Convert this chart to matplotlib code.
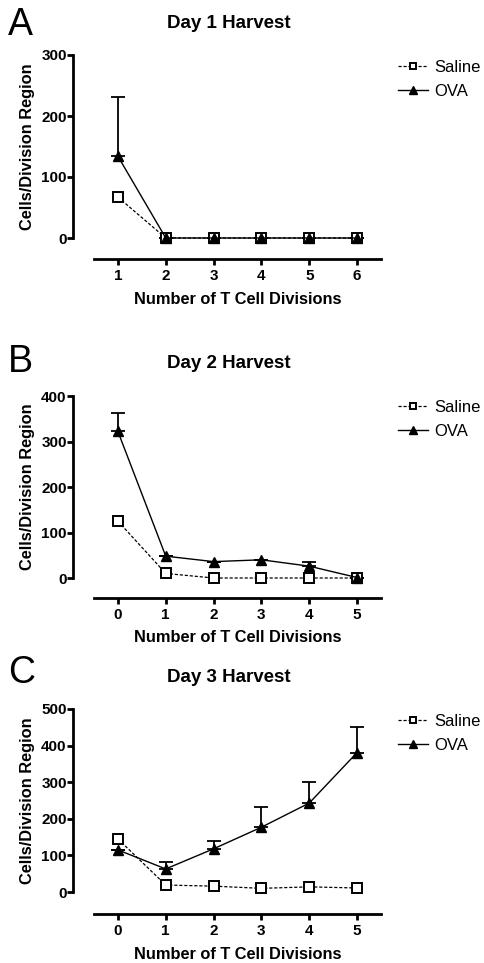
import matplotlib
matplotlib.use("Agg")
import matplotlib.pyplot as plt
import numpy as np

plt.rcParams['font.family'] = ['Liberation Sans', 'DejaVu Sans']

# Panel A
a_x = [1, 2, 3, 4, 5, 6]
a_saline = [67, 0, 0, 0, 0, 0]
a_ova = [134, 0, 0, 0, 0, 0]
a_ova_err = [97, 0, 0, 0, 0, 0]
a_yticks = [0, 100, 200, 300]

# Panel B
b_x = [0, 1, 2, 3, 4, 5]
b_saline = [125, 10, 0, 0, 0, 0]
b_ova = [322, 48, 36, 40, 26, 1]
b_ova_err = [41, 0, 0, 0, 9, 0]
b_yticks = [0, 100, 200, 300, 400]

# Panel C
c_x = [0, 1, 2, 3, 4, 5]
c_saline = [145, 19, 16, 10, 14, 11]
c_ova = [115, 63, 118, 177, 243, 381]
c_ova_err = [0, 18, 20, 54, 57, 69]
c_yticks = [0, 100, 200, 300, 400, 500]

panels = [
    ("A", "Day 1 Harvest", a_x, a_saline, a_ova, a_ova_err, a_yticks),
    ("B", "Day 2 Harvest", b_x, b_saline, b_ova, b_ova_err, b_yticks),
    ("C", "Day 3 Harvest", c_x, c_saline, c_ova, c_ova_err, c_yticks),
]

W, H = 485, 963
fig = plt.figure(figsize=(W / 100, H / 100), dpi=100)

# layout in pixels: (axes top, axes bottom, x-axis line, title y, letter y, legend y)
layout = [
    (55, 238, 259, 24, 25, 68),
    (396, 578, 598, 363, 362, 408),
    (709, 892, 914, 678, 673, 722),
]
ax_left, ax_right, yspine_x = 94, 381, 73

for (letter, title, xs, sal, ova, err, yt), (top, bot, xline, ty, ly, legy) in zip(panels, layout):
    ax = fig.add_axes([ax_left / W, 1 - bot / H, (ax_right - ax_left) / W, (bot - top) / H])
    ax.set_xlim(xs[0] - 0.5, xs[-1] + 0.5)
    ax.set_ylim(0, yt[-1])
    for s in ['top', 'right']:
        ax.spines[s].set_visible(False)
    ax.spines['left'].set_position(('outward', (ax_left - yspine_x) * 0.72))
    ax.spines['bottom'].set_position(('outward', (xline - bot) * 0.72))
    ax.spines['left'].set_linewidth(2.0)
    ax.spines['bottom'].set_linewidth(2.0)
    ax.set_yticks(yt)
    ax.set_xticks(xs)
    ax.tick_params(axis='both', width=2.0, length=4, labelsize=11)
    ax.tick_params(axis='x', pad=3)
    ax.tick_params(axis='y', pad=0.5)
    for lab in ax.get_xticklabels() + ax.get_yticklabels():
        lab.set_fontweight('bold')

    ax.errorbar(xs, ova, yerr=[np.zeros(len(err)), err], fmt='none', ecolor='black',
                elinewidth=1.3, capsize=5, capthick=1.3, clip_on=False, zorder=2)
    ax.plot(xs, sal, linestyle=(0, (2.5, 1.5)), color='black', linewidth=0.9,
            marker='s', markersize=6.5, markerfacecolor='white', markeredgecolor='black',
            markeredgewidth=1.4, clip_on=False, zorder=3, label='Saline')
    ax.plot(xs, ova, linestyle='-', color='black', linewidth=1.0,
            marker='^', markersize=7.5, markerfacecolor='black', markeredgecolor='black',
            clip_on=False, zorder=4, label='OVA')

    fig.text(237.5 / W, 1 - (xline + 40) / H, "Number of T Cell Divisions",
             ha='center', va='center', fontsize=11.8, fontweight='bold')
    fig.text(28 / W, 1 - ((top + bot) / 2) / H, "Cells/Division Region", rotation=90,
             ha='center', va='center', fontsize=11.8, fontweight='bold')
    fig.text(229 / W, 1 - ty / H, title, ha='center', va='center',
             fontsize=13.5, fontweight='bold')
    fig.text(8 / W, 1 - ly / H, letter, ha='left', va='center', fontsize=27)

    ax.legend(loc='upper left', bbox_to_anchor=(398 / W, 1 - (legy - 8) / H),
              bbox_transform=fig.transFigure, frameon=False, fontsize=12,
              handlelength=1.8, handletextpad=0.35, labelspacing=0.55, borderaxespad=0,
              borderpad=0, markerscale=0.75)

fig.savefig("out.png", dpi=100)
